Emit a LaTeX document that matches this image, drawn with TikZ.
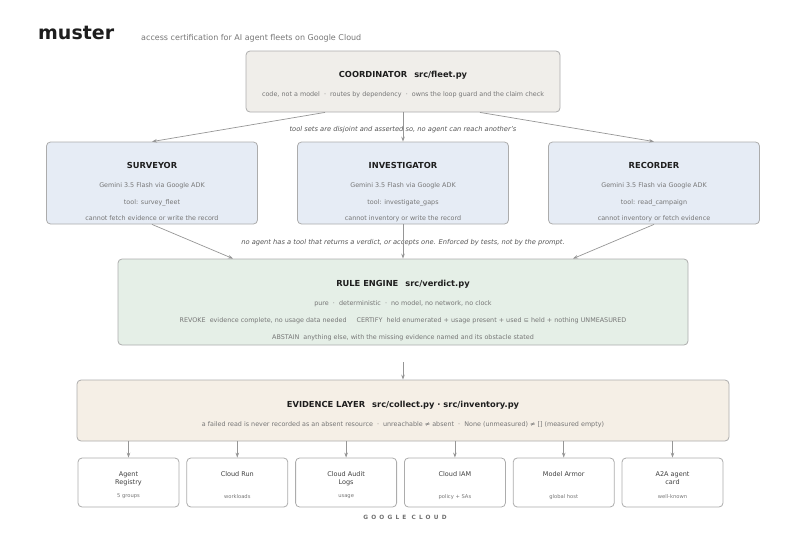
\documentclass[tikz,border=0pt]{standalone}
\usepackage{fontspec}
\setmainfont{DejaVu Sans}
\usepackage{xcolor}
\definecolor{ink}{RGB}{30,30,30}
\definecolor{muted}{RGB}{118,118,118}
\definecolor{edge}{RGB}{172,172,172}
\definecolor{arrowgray}{RGB}{150,150,150}
\definecolor{remarkgray}{RGB}{85,85,85}
\definecolor{footgray}{RGB}{110,110,110}
\definecolor{coordfill}{RGB}{240,238,234}
\definecolor{agentfill}{RGB}{230,236,245}
\definecolor{rulefill}{RGB}{229,239,231}
\definecolor{evidfill}{RGB}{245,239,230}
\usepackage{tikz}
\usetikzlibrary{arrows.meta,positioning}

\begin{document}
\begin{tikzpicture}[
    x=1pt, y=1pt,
    node distance=30pt,
    box/.style={rectangle, rounded corners=4pt, draw=edge, line width=0.8pt, inner sep=0pt},
    coordbox/.style={box, fill=coordfill, minimum width=314pt, minimum height=61pt},
    agent/.style={box, fill=agentfill, minimum width=211pt, minimum height=82pt},
    engine/.style={box, fill=rulefill, minimum width=570pt, minimum height=86pt},
    layer/.style={box, fill=evidfill, minimum width=652pt, minimum height=61pt},
    source/.style={box, fill=white, minimum width=101pt, minimum height=49pt},
    head/.style={font=\fontsize{8.3}{10}\selectfont\bfseries, text=ink, inner sep=0pt, text height=6.2pt, text depth=1.7pt},
    note/.style={font=\fontsize{6.4}{8}\selectfont, text=muted, inner sep=0pt, text height=4.8pt, text depth=1.3pt},
    srcname/.style={font=\fontsize{6.5}{8}\selectfont, text=ink!85, align=center, inner sep=0pt, anchor=north},
    srcnote/.style={font=\fontsize{5.2}{6}\selectfont, text=muted, inner sep=0pt},
    remark/.style={font=\fontsize{6.7}{8}\selectfont\itshape, text=remarkgray, inner sep=1pt},
    arrow/.style={-{Stealth[length=5pt,width=3.6pt]}, draw=arrowgray, line width=0.7pt}
]
\useasboundingbox (0,0) rectangle (806,-544);

% header
\node[anchor=base west, font=\fontsize{19}{22}\selectfont\bfseries, text=ink, inner sep=0pt] (brand) at (38,-39) {muster};
\node[anchor=base west, font=\fontsize{8}{10}\selectfont, text=muted, inner sep=0pt] (tagline) at (141,-40) {access certification for AI agent fleets on Google Cloud};

% boxes
\node[coordbox] (coord) at (403,-81.5) {};
\node[agent, below=29.2pt of coord] (inv) {};
\node[agent, left=39.2pt of inv] (surv) {};
\node[agent, right=39.2pt of inv] (rec) {};
\node[engine, below=34.2pt of inv] (rule) {};
\node[layer, below=34.2pt of rule] (evid) {};

\node[source] (reg) at (128.5,-482.5) {};
\node[source, right=7pt of reg] (run) {};
\node[source, right=7pt of run] (audit) {};
\node[source, right=7pt of audit] (iam) {};
\node[source, right=7pt of iam] (armor) {};
\node[source, right=7pt of armor] (card) {};

% coordinator
\node[head] (coordtitle) at ([yshift=-24.5pt]coord.north) {COORDINATOR\hspace{7pt}src/fleet.py};
\node[note] (coordnote) at ([yshift=-44.5pt]coord.north) {code, not a model\ \ ·\ \ routes by dependency\ \ ·\ \ owns the loop guard and the claim check};

% agents
\node[head] (survtitle) at ([yshift=-24.5pt]surv.north) {SURVEYOR};
\node[note] (survmodel) at ([yshift=-44.5pt]surv.north) {Gemini 3.5 Flash via Google ADK};
\node[note] (survtool) at ([yshift=-61.5pt]surv.north) {tool: survey\_fleet};
\node[note] (survlimit) at ([yshift=-77.5pt]surv.north) {cannot fetch evidence or write the record};

\node[head] (invtitle) at ([yshift=-24.5pt]inv.north) {INVESTIGATOR};
\node[note] (invmodel) at ([yshift=-44.5pt]inv.north) {Gemini 3.5 Flash via Google ADK};
\node[note] (invtool) at ([yshift=-61.5pt]inv.north) {tool: investigate\_gaps};
\node[note] (invlimit) at ([yshift=-77.5pt]inv.north) {cannot inventory or write the record};

\node[head] (rectitle) at ([yshift=-24.5pt]rec.north) {RECORDER};
\node[note] (recmodel) at ([yshift=-44.5pt]rec.north) {Gemini 3.5 Flash via Google ADK};
\node[note] (rectool) at ([yshift=-61.5pt]rec.north) {tool: read\_campaign};
\node[note] (reclimit) at ([yshift=-77.5pt]rec.north) {cannot inventory or fetch evidence};

% rule engine
\node[head] (ruletitle) at ([yshift=-25.5pt]rule.north) {RULE ENGINE\hspace{7pt}src/verdict.py};
\node[note] (rulepure) at ([yshift=-45pt]rule.north) {pure\ \ ·\ \ deterministic\ \ ·\ \ no model, no network, no clock};
\node[note] (rulecases) at ([yshift=-62pt]rule.north) {REVOKE\ \ evidence complete, no usage data needed\hspace{10pt}CERTIFY\ \ held enumerated + usage present + used ⊆ held + nothing UNMEASURED};
\node[note] (ruleabstain) at ([yshift=-79pt]rule.north) {ABSTAIN\ \ anything else, with the missing evidence named and its obstacle stated};

% evidence layer
\node[head] (evidtitle) at ([yshift=-25.5pt]evid.north) {EVIDENCE LAYER\hspace{7pt}src/collect.py · src/inventory.py};
\node[note] (evidnote) at ([yshift=-45.5pt]evid.north) {a failed read is never recorded as an absent resource\ \ ·\ \ unreachable ≠ absent\ \ ·\ \ None (unmeasured) ≠ [] (measured empty)};

% google cloud sources
\node[srcname] (regname) at ([yshift=-13.6pt]reg.north) {Agent\\Registry};
\node[srcnote] (regnote) at ([yshift=-39pt]reg.north) {5 groups};
\node[srcname] (runname) at ([yshift=-13.6pt]run.north) {Cloud Run};
\node[srcnote] (runnote) at ([yshift=-39pt]run.north) {workloads};
\node[srcname] (auditname) at ([yshift=-13.6pt]audit.north) {Cloud Audit\\Logs};
\node[srcnote] (auditnote) at ([yshift=-39pt]audit.north) {usage};
\node[srcname] (iamname) at ([yshift=-13.6pt]iam.north) {Cloud IAM};
\node[srcnote] (iamnote) at ([yshift=-39pt]iam.north) {policy + SAs};
\node[srcname] (armorname) at ([yshift=-13.6pt]armor.north) {Model Armor};
\node[srcnote] (armornote) at ([yshift=-39pt]armor.north) {global host};
\node[srcname] (cardname) at ([yshift=-13.6pt]card.north) {A2A agent\\card};
\node[srcnote] (cardnote) at ([yshift=-39pt]card.north) {well-known};

\node[font=\fontsize{5.8}{7}\selectfont\bfseries, text=footgray, inner sep=0pt] (cloud) at (405,-517) {\addfontfeature{LetterSpace=55}GOOGLE CLOUD};

% remarks
\node[remark] (disjoint) at (403,-130) {tool sets are disjoint and asserted so, no agent can reach another's};
\node[remark] (noverdict) at (403,-243) {no agent has a tool that returns a verdict, or accepts one. Enforced by tests, not by the prompt.};

% connectors
\draw[arrow] ([xshift=-78pt]coord.south) -- (surv.north);
\draw[arrow] (coord) -- (inv);
\draw[arrow] ([xshift=77pt]coord.south) -- (rec.north);

\draw[arrow] (surv.south) -- ([xshift=-170pt]rule.north);
\draw[arrow] (inv) -- (rule);
\draw[arrow] (rec.south) -- ([xshift=170pt]rule.north);

\draw[arrow, shorten <=17pt] (rule) -- (evid);

\draw[arrow] (reg |- evid.south) -- (reg);
\draw[arrow] (run |- evid.south) -- (run);
\draw[arrow] (audit |- evid.south) -- (audit);
\draw[arrow] (iam |- evid.south) -- (iam);
\draw[arrow] (armor |- evid.south) -- (armor);
\draw[arrow] (card |- evid.south) -- (card);

\end{tikzpicture}
\end{document}
